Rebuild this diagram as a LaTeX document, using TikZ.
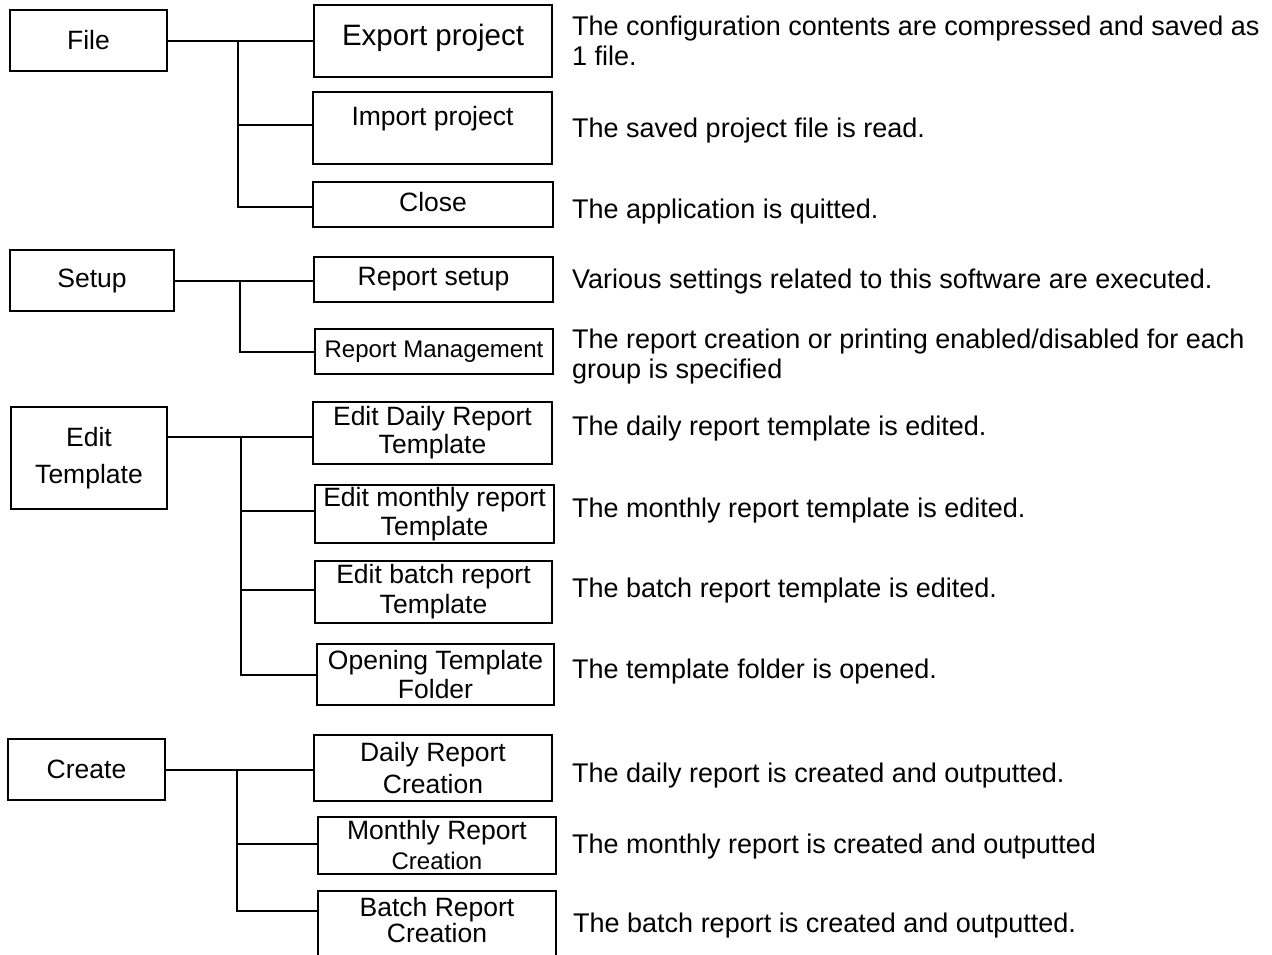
\documentclass[tikz,border=0pt]{standalone}
\usepackage{fontspec}
\setmainfont{Liberation Sans}
\begin{document}
\begin{tikzpicture}[x=1pt,y=-1pt,
  box/.style={draw, line width=2pt, inner sep=0pt, align=center, font=\fontsize{26.5}{29}\selectfont},
  conn/.style={line width=2pt},
  desc/.style={anchor=base west, inner sep=0pt, align=left, font=\fontsize{27}{30}\selectfont},
  desc2/.style={anchor=north west, inner sep=0pt, align=left, font=\fontsize{27}{30}\selectfont}]
\useasboundingbox (0,0) rectangle (1272,954);

% ---------- File ----------
\node[box, minimum width=157pt, minimum height=61pt] (file) at (88.5,40.5) {File};
\node[box, minimum width=238pt, minimum height=72pt, text height=20pt, text depth=12pt, font=\fontsize{29.5}{32}\selectfont] (exp) at (433,41) {Export project};
\node[box, minimum width=239pt, minimum height=72pt, text height=10pt, text depth=16pt] (imp) at (432.5,128) {Import project};
\node[box, minimum width=240pt, minimum height=45pt, text height=20pt, text depth=7pt] (clo) at (433,204.5) {Close};
\coordinate (jf) at (238,40.5);
\draw[conn] (file.east) -- (exp.west |- file.east);
\draw[conn] (jf) |- ([yshift=3pt]imp.west);
\draw[conn] (jf) |- ([yshift=-2.5pt]clo.west);

% ---------- Setup ----------
\node[box, minimum width=164pt, minimum height=61pt] (setup) at (92,280.5) {Setup};
\node[box, minimum width=239pt, minimum height=45pt] (rs) at (433.5,279.5) {Report setup};
\node[box, minimum width=238pt, minimum height=45pt, font=\fontsize{24}{28}\selectfont] (rm) at (434,351.5) {Report Management};
\coordinate (js) at (240,280.5);
\draw[conn] (setup.east) -- (rs.west |- setup.east);
\draw[conn] (js) |- (rm.west);

% ---------- Edit Template ----------
\node[box, minimum width=156pt, minimum height=102pt, font=\fontsize{26.5}{37}\selectfont] (et) at (89,458) {Edit\\Template};
\node[box, minimum width=239pt, minimum height=62pt, font=\fontsize{26.5}{28}\selectfont] (ed) at (432.5,433) {Edit Daily Report\\Template};
\node[box, minimum width=239pt, minimum height=58pt] (em) at (434.5,514) {Edit monthly report\\Template};
\node[box, minimum width=237pt, minimum height=62pt, font=\fontsize{26.5}{30}\selectfont] (eb) at (433.5,592) {Edit batch report\\Template};
\node[box, minimum width=237pt, minimum height=61pt] (of) at (435.5,674.5) {Opening Template\\Folder};
\coordinate (jt) at (241,437);
\draw[conn] (et.east |- jt) -- (ed.west |- jt);
\draw[conn] (jt) |- ([yshift=3pt]em.west);
\draw[conn] (jt) |- ([yshift=2pt]eb.west);
\draw[conn] (jt) |- (of.west);

% ---------- Create ----------
\node[box, minimum width=157pt, minimum height=61pt] (cr) at (86.5,769.5) {Create};
\node[box, minimum width=238pt, minimum height=66pt, font=\fontsize{26.5}{32}\selectfont] (dc) at (433,768) {Daily Report\\Creation};
\node[box, minimum width=238pt, minimum height=57pt, font=\fontsize{26.5}{30}\selectfont] (mc) at (437,845.5) {Monthly Report\\{\fontsize{24}{30}\selectfont Creation}};
\node[box, minimum width=238pt, minimum height=69pt] (bc) at (437,925.5) {};
\node[anchor=north, align=center, inner sep=0pt, font=\fontsize{26.5}{24}\selectfont] (bct) at (437,897) {Batch Report\\Creation};
\coordinate (jc) at (237,769.5);
\draw[conn] (cr.east) -- (dc.west |- cr.east);
\draw[conn] (jc) |- ([yshift=1.5pt]mc.west);
\draw[conn] (jc) |- ([yshift=14.5pt]bc.west);

% ---------- Descriptions ----------
\node[desc2] (d1) at (572,15.5) {The configuration contents are compressed and saved as\\1 file.};
\node[desc] (d2) at (572,137) {The saved project file is read.};
\node[desc] (d3) at (572,218) {The application is quitted.};
\node[desc] (d4) at (572,288) {Various settings related to this software are executed.};
\node[desc2] (d5) at (572,328.5) {The report creation or printing enabled/disabled for each\\group is specified};
\node[desc] (d6) at (572,435) {The daily report template is edited.};
\node[desc] (d7) at (572,517) {The monthly report template is edited.};
\node[desc] (d8) at (572,597) {The batch report template is edited.};
\node[desc] (d9) at (572,678) {The template folder is opened.};
\node[desc] (d10) at (572,782) {The daily report is created and outputted.};
\node[desc] (d11) at (572,853) {The monthly report is created and outputted};
\node[desc] (d12) at (573,932) {The batch report is created and outputted.};
\end{tikzpicture}
\end{document}
